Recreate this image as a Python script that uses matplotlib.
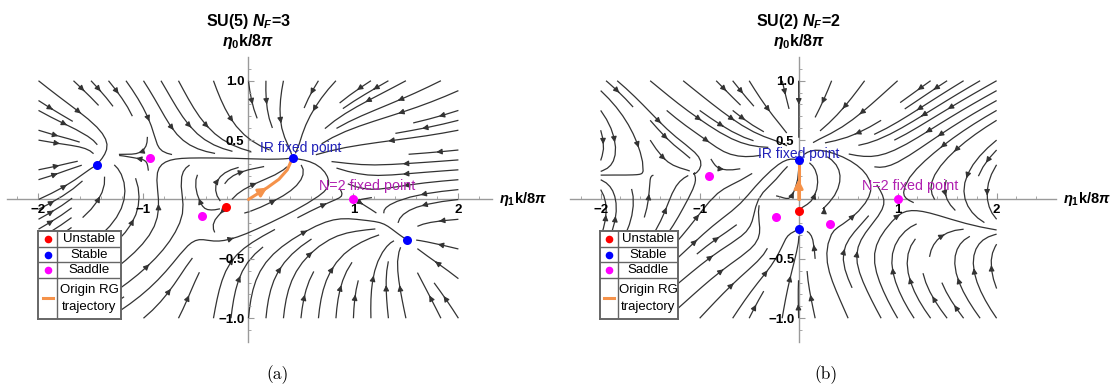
import numpy as np
import matplotlib
matplotlib.use("Agg")
import matplotlib.pyplot as plt
import matplotlib.transforms as mtransforms

plt.rcParams['mathtext.fontset'] = 'custom'
plt.rcParams['mathtext.it'] = 'Liberation Sans:italic:bold'
plt.rcParams['mathtext.rm'] = 'Liberation Sans:bold'
plt.rcParams['mathtext.bf'] = 'Liberation Sans:bold'

# ---------------- data ----------------
titles = [r"SU(5) $N_F$=3", r"SU(2) $N_F$=2"]
captions = ["(a)", "(b)"]
xtick_vals = [-2, -1, 1, 2]
xtick_labels = ["\u22122", "\u22121", "1", "2"]
ytick_vals = [-1.0, -0.5, 0.5, 1.0]
ytick_labels = ["\u22121.0", "\u22120.5", "0.5", "1.0"]

# panel (a) fixed points
a_unstable_x = [-0.21]
a_unstable_y = [-0.06]
a_stable_x = [-1.44, 0.42, 1.51]
a_stable_y = [0.29, 0.35, -0.34]
a_saddle_x = [-0.94, -0.44, 1.00]
a_saddle_y = [0.35, -0.14, 0.00]
a_traj_x = [0.0, 0.09, 0.18, 0.29, 0.37, 0.42]
a_traj_y = [0.0, 0.05, 0.10, 0.17, 0.25, 0.35]

# panel (a) flow directions: x, y, dx, dy
a_flow_x = [-2, -1.5, -1, -0.5, 0, 0.5, 1, 1.5, 2,
            -2, -1.5, -1, -0.5, 0, 0.5, 1, 1.5, 2,
            -2, -1.2, -0.5, 0, 1, 1.5, 2,
            -2, -1.5, -1, -0.5, 0, 0.5, 1.5, 2,
            -2, -1.5, -1, -0.6, 0.3, 1, 1.5, 2,
            -2, -1.5, -1, -0.5, 0, 0.5, 1, 2,
            -2, -1.5, -1, -0.5, 0, 0.5, 1, 1.5, 2,
            -2, -1.5, -1, -0.5, 0, 0.5, 1, 1.5, 2]
a_flow_y = [1.0] * 9 + [0.6] * 9 + [0.35] * 7 + [0.15] * 8 + [-0.08] * 8 + \
           [-0.35] * 8 + [-0.6] * 9 + [-1.0] * 9
a_flow_dx = [1, 1, 0.8, 0.5, 0, -0.5, -1, -1, -1,
             1, 1, 0.7, 0.5, 0.3, -0.3, -1, -1, -1,
             1, -1, 1, 1, -1, -1, -1,
             1, 0.3, -1, -0.3, 0.5, 0.3, -1, -1,
             1, 1, 0.5, -1, 1, 1, -0.3, -1,
             1, 1, 1, 0.3, 1, 1, 1, -1,
             1, 1, 1, 0.1, 0, 0.1, 0, -0.2, -1,
             1, 1, 1, 0.2, 0, 0.05, 0, -0.2, -0.6]
a_flow_dy = [-0.8, -1, -1, -1, -1, -1, -0.7, -0.6, -0.5,
             -0.6, -0.7, -1, -1, -1, -1, -0.5, -0.35, -0.4,
             -0.05, 0.1, -0.05, -0.1, 0.3, 0.2, 0.1,
             0.35, 1, 0.5, 1, 1, 1, 0.4, 0.2,
             0.5, 0.6, 1, 0.05, -0.05, -0.1, -1, -0.6,
             0.5, 0.6, 0.6, -1, -0.05, 0, 0, 0.05,
             0.6, 0.6, 0.7, 1, 1, 1, 1, 1, 0.7,
             0.5, 0.5, 0.5, 1, 1, 1, 1, 1, 1]

# panel (b) fixed points
b_unstable_x = [0.0]
b_unstable_y = [-0.095]
b_stable_x = [0.0, 0.0]
b_stable_y = [0.33, -0.245]
b_saddle_x = [-0.905, -0.225, 0.32, 1.00]
b_saddle_y = [0.195, -0.145, -0.21, 0.00]
b_traj_x = [0.0, 0.0, 0.0]
b_traj_y = [0.0, 0.17, 0.33]

# panel (b) flow directions: x, y, dx, dy
b_flow_x = [-2, -1.5, -1, -0.5, -0.2, 0.2, 0.5, 1, 1.5, 2,
            -2, -1.5, -1, -0.5, 0.5, 1, 1.5, 2,
            -1.95, -1.6, -1.2, -0.5, 0.5, 1, 1.5, 2,
            -2, -1.5, -0.5, -0.3, 0.3, 0.6, 1.5, 2,
            -1.9, -1.5, -1.0, 0.5, 1.5, 2,
            -2, -1.5, -0.65, -0.5, 0.5, 1, 1.5, 2,
            -2, -1.5, -1, -0.5, 0.5, 1.05, 1.5, 2,
            -2, -1, 0.5, 1.5, 2,
            -2, -1.5, -1, -0.5, -0.2, 0.2, 0.5, 1, 1.5, 2]
b_flow_y = [1.0] * 10 + [0.6] * 8 + [0.4] * 8 + \
           [0.22, 0.22, 0.06, 0.2, 0.15, 0.15, 0.15, 0.15] + \
           [-0.05, -0.05, -0.05, -0.05, -0.12, 0.0] + \
           [-0.2, -0.25, -0.13, -0.35, -0.24, -0.22, -0.27, -0.27] + \
           [-0.5] * 8 + [-0.75] * 5 + [-1.0] * 10
b_flow_dx = [1, 1, 1, 0.6, 0.2, -0.2, -0.5, -1, -1, -1,
             1, 1, 1, 1, -1, -1, -1, -1,
             -0.4, 0.2, 1, 1, -1, -1, -1, -1,
             -1, -1, -1, -0.1, 0.1, 0.2, -0.3, -0.3,
             -0.3, -0.1, 0.1, 1, 1, 0.2,
             0.3, 1, 1, 1, 1, 1, 1, 1,
             1, 1, 1, 1, -1, -0.3, -0.3, 0,
             1, 1, -0.8, -1, -0.6,
             1, 1, 0.8, 0.5, 0.2, -0.2, -0.5, -0.8, -1, -1]
b_flow_dy = [-0.55, -0.65, -0.8, -1, -1, -1, -1, -0.9, -0.6, -0.5,
             -0.5, -0.45, -0.4, -0.5, -0.6, -0.45, -0.4, -0.35,
             -1, -1, -0.5, -0.2, -0.3, -0.3, -0.3, -0.3,
             0.05, 0.1, 0.3, 1, 1, 1, -1, -1,
             1, 1, 1, 0.05, -0.25, -1,
             1, 0.6, -0.7, 0.3, 0.02, 0, -0.05, -0.05,
             0.6, 0.55, 0.5, 0.7, 0.6, 1, 1, 1,
             0.55, 0.6, 1, 0.8, 1,
             0.5, 0.6, 1, 1, 1, 1, 1, 1, 0.8, 0.7]

# label positions (IR point, N=2 point)
a_ir_label = (0.50, 0.43)
a_n2_label = (1.13, 0.11)
b_ir_label = (0.0, 0.385)
b_n2_label = (1.13, 0.11)

# local shape around saddles: (unstable dir, stable dir)
a_saddle_dirs = [((1, 0.0), (0.1, 1)), ((-0.4, 1), (1, 0.4)), ((-1, 0.63), (1, 0.1))]
b_saddle_dirs = [((1, 0.0), (0.3, 1)), ((1, -0.45), (-0.5, 1)), ((1, 0.05), (0.3, 1)), ((1, -0.3), (0.5, 1))]

ORANGE = '#f5924a'
LINE = '#333333'
AX = '#9a9a9a'


def jac(l1, v1, l2, v2):
    V = np.array([v1, v2], float).T
    return V @ np.diag([l1, l2]) @ np.linalg.inv(V)


def build_field(X, Y, fixed, fx, fy, fdx, fdy, sig=0.3, loc=0.22, c=0.25):
    U = np.zeros_like(X)
    V = np.zeros_like(X)
    W = np.full_like(X, 1e-9)
    for qx, qy, ux, uy in zip(fx, fy, fdx, fdy):
        n = np.hypot(ux, uy)
        g = np.exp(-((X - qx) ** 2 + (Y - qy) ** 2) / (2 * sig * sig))
        U += g * ux / n
        V += g * uy / n
        W += g
    for (px, py, J) in fixed:
        dx, dy = X - px, Y - py
        r2 = dx * dx + dy * dy + 1e-12
        w = c / r2 * np.exp(-r2 / (2 * loc * loc))
        U += w * (J[0, 0] * dx + J[0, 1] * dy)
        V += w * (J[1, 0] * dx + J[1, 1] * dy)
        W += w
    return U / W, V / W


def fixed_for(ux, uy, sx, sy, dx_, dy_, sdirs):
    sp = []
    for p in zip(sx, sy):
        sp.append((p[0], p[1], -np.eye(2)))
    for p in zip(ux, uy):
        sp.append((p[0], p[1], np.eye(2)))
    for p, (vu, vs) in zip(zip(dx_, dy_), sdirs):
        sp.append((p[0], p[1], jac(1.0, vu, -1.0, vs)))
    return sp


fig = plt.figure(figsize=(11.13, 3.85), dpi=100)
axes_pos = [[7 / 1113, 0.1117, 485 / 1113, 0.7403], [570 / 1113, 0.1117, 486 / 1113, 0.7403]]
xlims = [(-2.3, 2.32), (-2.31, 2.6)]
leg_pos = [[0.0344, 0.1714, 0.0740, 0.2294], [0.5391, 0.1714, 0.0701, 0.2294]]
cap_x = [278 / 1113, 826 / 1113]

panels = [
    (a_unstable_x, a_unstable_y, a_stable_x, a_stable_y, a_saddle_x, a_saddle_y,
     a_saddle_dirs, (a_flow_x, a_flow_y, a_flow_dx, a_flow_dy),
     a_traj_x, a_traj_y, a_ir_label, a_n2_label, 2),
    (b_unstable_x, b_unstable_y, b_stable_x, b_stable_y, b_saddle_x, b_saddle_y,
     b_saddle_dirs, (b_flow_x, b_flow_y, b_flow_dx, b_flow_dy),
     b_traj_x, b_traj_y, b_ir_label, b_n2_label, 1),
]

gx = np.linspace(-2, 2, 161)
gy = np.linspace(-1, 1, 81)
GX, GY = np.meshgrid(gx, gy)

for i, (ux, uy, sx, sy, dx_, dy_, sdirs, flow, tx, ty, irl, n2l, ai) in enumerate(panels):
    ax = fig.add_axes(axes_pos[i])
    U, V = build_field(GX, GY, fixed_for(ux, uy, sx, sy, dx_, dy_, sdirs), *flow)
    ax.streamplot(gx, gy, U, V, density=0.85, color=LINE, linewidth=0.9,
                  arrowsize=0.8, arrowstyle='-|>', zorder=1)
    for s in ['top', 'right']:
        ax.spines[s].set_visible(False)
    ax.spines['left'].set_position(('data', 0))
    ax.spines['bottom'].set_position(('data', 0))
    for s in ['left', 'bottom']:
        ax.spines[s].set_color(AX)
        ax.spines[s].set_linewidth(1.0)
        ax.spines[s].set_zorder(0.5)
    x0, x1 = xlims[i]
    ax.set_xticks(xtick_vals)
    ax.set_xticklabels(xtick_labels)
    ax.set_yticks(ytick_vals)
    ax.set_yticklabels(ytick_labels)
    ax.set_xticks([v for v in np.arange(-2.2, 2.61, 0.2) if x0 < v < x1], minor=True)
    ax.set_yticks(np.arange(-1.1, 1.11, 0.1), minor=True)
    ax.set_xlim(x0, x1)
    ax.set_ylim(-1.2, 1.2)
    ax.tick_params(which='major', direction='in', length=4, width=0.8, color=AX,
                   labelsize=9.5, pad=3)
    ax.tick_params(which='minor', direction='in', length=2.2, width=0.6, color=AX)
    for lab in ax.get_xticklabels() + ax.get_yticklabels():
        lab.set_fontweight('bold')
        lab.set_fontfamily('Liberation Sans')
    ax.patch.set_alpha(0)

    # origin RG trajectory
    ax.plot(tx, ty, color=ORANGE, lw=2.2, zorder=3, solid_capstyle='round')
    ax.annotate('', xy=(tx[ai], ty[ai]), xytext=(tx[ai - 1], ty[ai - 1]),
                arrowprops=dict(arrowstyle='-|>', color=ORANGE, lw=2.0,
                                mutation_scale=13, shrinkA=0, shrinkB=0), zorder=3)

    ax.plot(ux, uy, 'o', color='#ff0000', ms=6.5, zorder=4, mec='none')
    ax.plot(sx, sy, 'o', color='#0000ff', ms=6.5, zorder=4, mec='none')
    ax.plot(dx_, dy_, 'o', color='#ff00ff', ms=6.5, zorder=4, mec='none')

    ax.text(irl[0], irl[1], "IR fixed point", color='#2020b8', fontsize=10,
            ha='center', va='center', family='Liberation Sans', zorder=5)
    ax.text(n2l[0], n2l[1], "N=2 fixed point", color='#b020b0', fontsize=10.3,
            ha='center', va='center', family='Liberation Sans', zorder=5)

    # titles and axis labels
    tr = mtransforms.blended_transform_factory(ax.transData, fig.transFigure)
    ax.text(0, 0.945, titles[i], transform=tr, ha='center', va='center',
            fontsize=11.5, fontweight='bold', family='Liberation Sans')
    ax.text(0, 0.892, r"$\eta_0$k/8$\pi$", transform=tr, ha='center', va='center',
            fontsize=11.5, fontweight='bold', family='Liberation Sans')
    ax.annotate(r"$\eta_1$k/8$\pi$", xy=(1, 0), xycoords=('axes fraction', 'data'),
                xytext=(5, 0), textcoords='offset points', ha='left', va='center',
                fontsize=10.5, fontweight='bold', family='Liberation Sans',
                annotation_clip=False)

    # legend table
    lg = fig.add_axes(leg_pos[i])
    lg.set_xlim(0, 1)
    lg.set_ylim(0, 1)
    lg.set_xticks([])
    lg.set_yticks([])
    lg.patch.set_facecolor('white')
    for s in lg.spines.values():
        s.set_color('#666666')
        s.set_linewidth(1.4)
    col = 0.232
    rows = [1.0, 0.812, 0.642, 0.468, 0.0]
    lg.axvline(col, color='#666666', lw=1.0)
    for r in rows[1:4]:
        lg.axhline(r, color='#666666', lw=1.0)
    entries = [("Unstable", '#ff0000'), ("Stable", '#0000ff'), ("Saddle", '#ff00ff')]
    for k, (name, c) in enumerate(entries):
        yc = (rows[k] + rows[k + 1]) / 2
        lg.plot([col / 2], [yc], 'o', color=c, ms=5.5, mec='none')
        lg.text((1 + col) / 2, yc, name, ha='center', va='center', fontsize=9.5,
                family='Liberation Sans')
    yc = (rows[3] + rows[4]) / 2
    lg.plot([col / 2 - 0.06, col / 2 + 0.06], [yc, yc], color=ORANGE, lw=2.2)
    lg.text((1 + col) / 2, yc, "Origin RG\ntrajectory", ha='center', va='center',
            fontsize=9.5, family='Liberation Sans', linespacing=1.55)

    fig.text(cap_x[i], 1 - 375 / 385, captions[i], ha='center', va='center',
             fontsize=12.5, family='cmr10')

fig.savefig('out.png', dpi=100)
